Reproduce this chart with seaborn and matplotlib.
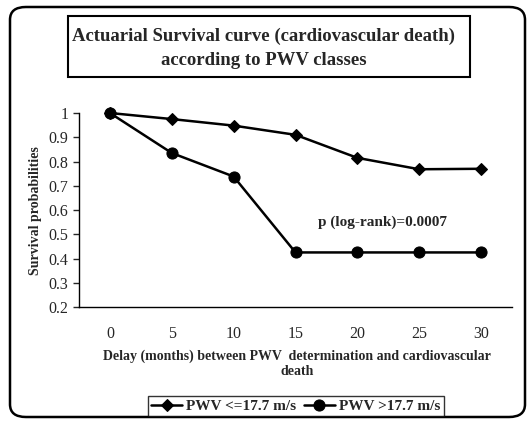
import numpy as np
import pandas as pd
import seaborn as sns
import matplotlib.pyplot as plt
from matplotlib.patches import FancyBboxPatch, Rectangle

# survival data
months = [0, 5, 10, 15, 20, 25, 30]
pwv_low = [1.0, 0.975, 0.948, 0.91, 0.815, 0.768, 0.77]
pwv_high = [1.0, 0.835, 0.738, 0.425, 0.425, 0.425, 0.425]
labels = ['PWV <=17.7 m/s', 'PWV >17.7 m/s']
yticks = [0.2, 0.3, 0.4, 0.5, 0.6, 0.7, 0.8, 0.9, 1]

df = pd.DataFrame({
    'month': months * 2,
    'surv': pwv_low + pwv_high,
    'group': [labels[0]] * len(months) + [labels[1]] * len(months),
})

sns.set_style('white')
plt.rcParams['font.family'] = ['Liberation Serif', 'DejaVu Serif']

fig = plt.figure(figsize=(5.3, 4.23), dpi=100)
ax = fig.add_axes([79 / 530, 1 - 307 / 423, (512 - 79) / 530, (307 - 113) / 423])

sns.lineplot(data=df, x='month', y='surv', hue='group', style='group',
             markers={labels[0]: 'D', labels[1]: 'o'}, dashes=False,
             palette=['black', 'black'], linewidth=1.8, ax=ax,
             legend=False, clip_on=False)
# marker sizes
for line, ms in zip(ax.lines, [6, 8]):
    line.set_markersize(ms)
    line.set_markeredgecolor('black')
    line.set_clip_on(False)

ax.set_xlim(-2.5, 32.5)
ax.set_ylim(0.2, 1.0)
ax.set_xticks(months)
ax.set_xticklabels([str(m) for m in months], fontsize=11.5)
ax.set_xticks(np.arange(-2.5, 33, 5), minor=True)
ax.tick_params(axis='x', which='major', length=0, pad=14)
ax.tick_params(axis='x', which='minor', length=4, direction='inout', width=1)
ax.set_yticks(yticks)
ax.set_yticklabels(['0.2', '0.3', '0.4', '0.5', '0.6', '0.7', '0.8', '0.9', '1'], fontsize=11.5)
ax.tick_params(axis='y', length=4, width=1, direction='out', left=True)
for s in ['top', 'right']:
    ax.spines[s].set_visible(False)
for s in ['left', 'bottom']:
    ax.spines[s].set_color('black')
    ax.spines[s].set_linewidth(1)
ax.set_xlabel('')
ax.set_ylabel('')

ax.text(22.0, 0.55, 'p (log-rank)=0.0007', ha='center', va='center',
        fontsize=11, fontweight='bold')

fig.text(35 / 530, 1 - 211 / 423, 'Survival probabilities', rotation=90,
         ha='center', va='center', fontsize=10, fontweight='bold')
fig.text(297 / 530, 1 - 364 / 423,
         'Delay (months) between PWV  determination and cardiovascular\ndeath',
         ha='center', va='center', fontsize=10, fontweight='bold', linespacing=1.2)

# title box
fig.patches.append(Rectangle((68 / 530, 1 - 77 / 423), (470 - 68) / 530, (77 - 16) / 423,
                             transform=fig.transFigure, fill=False,
                             edgecolor='black', linewidth=1.5))
fig.text(264 / 530, 1 - 48 / 423,
         'Actuarial Survival curve (cardiovascular death)\naccording to PWV classes',
         ha='center', va='center', fontsize=13.5, fontweight='bold', linespacing=1.55)

# outer rounded frame
fig.patches.append(FancyBboxPatch((10 / 530, 6 / 423), (525 - 10) / 530, (416 - 6) / 423,
                                  boxstyle='round,pad=0,rounding_size=0.03',
                                  transform=fig.transFigure, fill=False,
                                  edgecolor='black', linewidth=1.8))

handles = list(ax.lines[:2])
leg = fig.legend(handles, labels, loc='center', bbox_to_anchor=(296 / 530, 1 - 406 / 423),
                 ncol=2, frameon=True, fancybox=False,
                 handlelength=2.0, handletextpad=0.3, columnspacing=0.5,
                 borderpad=0.2, prop={'weight': 'bold', 'size': 11})
leg.get_frame().set_edgecolor('black')
leg.get_frame().set_linewidth(1)

fig.savefig('out.png', dpi=100)
